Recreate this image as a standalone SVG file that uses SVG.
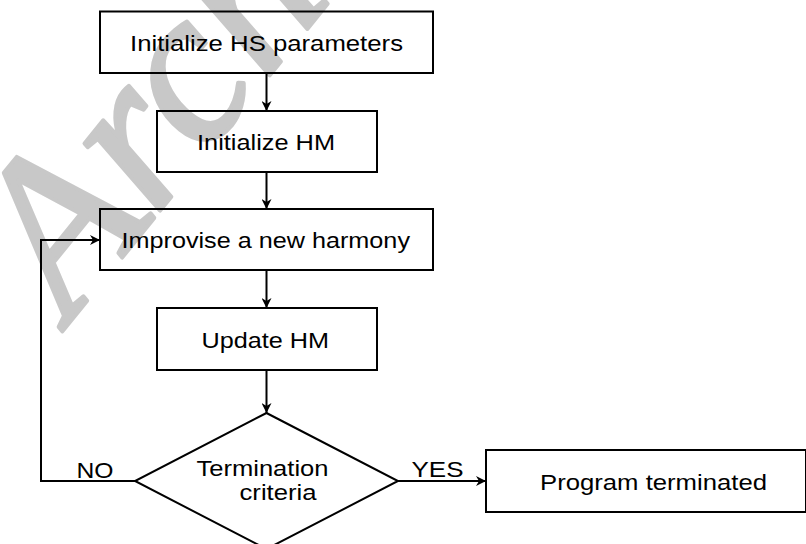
<svg xmlns="http://www.w3.org/2000/svg" width="806" height="544" viewBox="0 0 806 544">
  <defs>
    <marker id="arrow" viewBox="0 0 10 10" refX="10" refY="5" markerWidth="10" markerHeight="10" markerUnits="userSpaceOnUse" orient="auto">
      <path d="M0,0 L10,5 L0,10 L3,5 z" fill="#000"/>
    </marker>
  </defs>
  <style>
    .box { fill: none; stroke: #000; stroke-width: 2; }
    .lbl { font-family: "Liberation Sans", Arial, sans-serif; font-size: 21.5px; fill: #000; }
    .edge { fill: none; stroke: #000; stroke-width: 2; }
    .wm { font-family: "Liberation Serif", "Times New Roman", serif; font-style: italic; font-size: 220px; fill: #c8c8c8; stroke: #c8c8c8; stroke-width: 4; stroke-linejoin: round; }
  </style>
  <rect width="806" height="544" fill="#fff"/>

  <!-- background watermark -->
  <text class="wm" transform="translate(70,322) rotate(-51)">Archive of SID</text>

  <g id="connectors">
    <line class="edge" x1="266.5" y1="73" x2="266.5" y2="111" marker-end="url(#arrow)"/>
    <line class="edge" x1="266.5" y1="172" x2="266.5" y2="209" marker-end="url(#arrow)"/>
    <line class="edge" x1="266.5" y1="270" x2="266.5" y2="308" marker-end="url(#arrow)"/>
    <line class="edge" x1="266.5" y1="370" x2="266.5" y2="413" marker-end="url(#arrow)"/>
    <polyline class="edge" points="135,481 41,481 41,240 100,240" marker-end="url(#arrow)"/>
    <line class="edge" x1="398" y1="481" x2="486" y2="481" marker-end="url(#arrow)"/>
    <text class="lbl" x="76.5" y="477.5" textLength="37" lengthAdjust="spacingAndGlyphs">NO</text>
    <text class="lbl" x="411.5" y="476.5" textLength="52" lengthAdjust="spacingAndGlyphs">YES</text>
  </g>

  <g id="init-hs">
    <rect class="box" x="100" y="11.5" width="333" height="61.5"/>
    <text class="lbl" x="130" y="51" textLength="273" lengthAdjust="spacingAndGlyphs">Initialize HS parameters</text>
  </g>

  <g id="init-hm">
    <rect class="box" x="157" y="111" width="220" height="61"/>
    <text class="lbl" x="197" y="150" textLength="138" lengthAdjust="spacingAndGlyphs">Initialize HM</text>
  </g>

  <g id="improvise">
    <rect class="box" x="100" y="209" width="333" height="61"/>
    <text class="lbl" x="121.5" y="248" textLength="288.5" lengthAdjust="spacingAndGlyphs">Improvise a new harmony</text>
  </g>

  <g id="update-hm">
    <rect class="box" x="157" y="308" width="220" height="62"/>
    <text class="lbl" x="201.5" y="347.5" textLength="127.5" lengthAdjust="spacingAndGlyphs">Update HM</text>
  </g>

  <g id="termination">
    <polygon class="box" points="266.5,413 398,481 266.5,549 135,481"/>
    <text class="lbl" x="196.5" y="475.5" textLength="132" lengthAdjust="spacingAndGlyphs">Termination</text>
    <text class="lbl" x="239.5" y="499.5" textLength="77" lengthAdjust="spacingAndGlyphs">criteria</text>
  </g>

  <g id="terminated">
    <rect class="box" x="486" y="450" width="320" height="62"/>
    <text class="lbl" x="540" y="490" textLength="227" lengthAdjust="spacingAndGlyphs">Program terminated</text>
  </g>
</svg>
